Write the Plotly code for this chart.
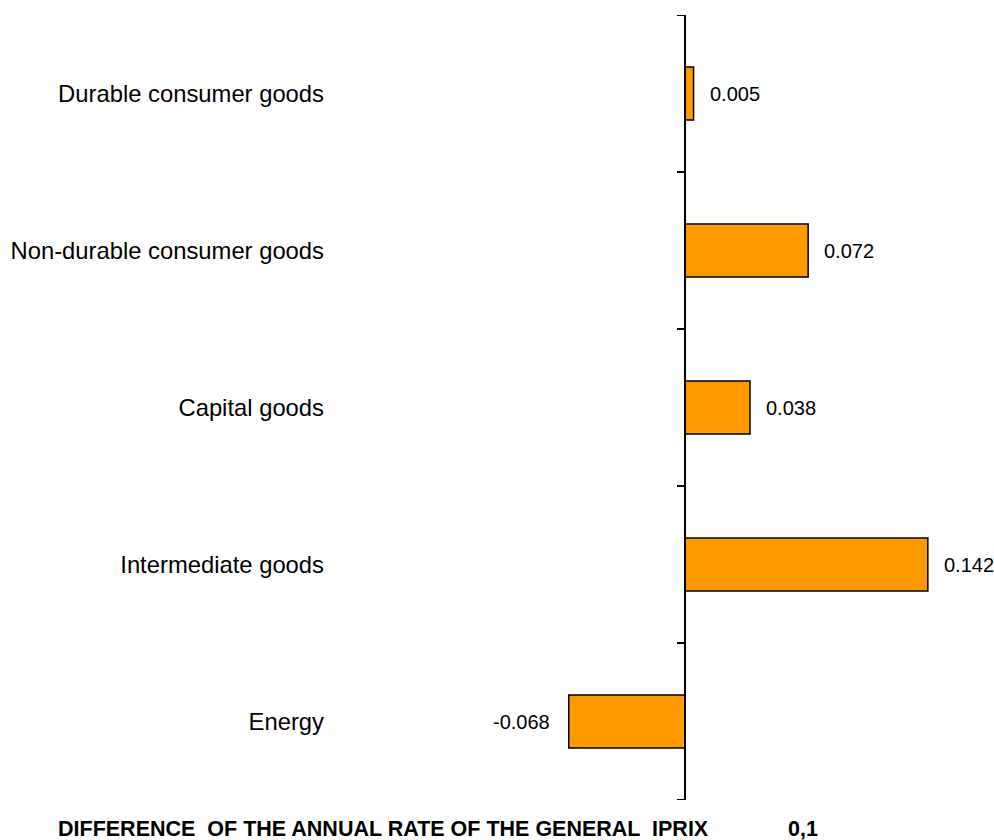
import plotly.graph_objects as go

# Categories, listed top to bottom
categories = [
    "Durable consumer goods",
    "Non-durable consumer goods",
    "Capital goods",
    "Intermediate goods",
    "Energy",
]
values = [0.005, 0.072, 0.038, 0.142, -0.068]
value_labels = ["0.005", "0.072", "0.038", "0.142", "-0.068"]

footer_text = "DIFFERENCE  OF THE ANNUAL RATE OF THE GENERAL  IPRIX"
footer_value = "0,1"

W, H = 994, 840
L, R, T, B = 335, 20, 15, 40
plot_w = W - L - R
plot_h = H - T - B
x_min, x_max = -0.2047, 0.169

BAR_COLOR = "#FF9900"
FONT = "Liberation Sans, Arial, sans-serif"

fig = go.Figure()
fig.add_trace(go.Bar(
    x=values,
    y=categories,
    orientation="h",
    marker=dict(color=BAR_COLOR, line=dict(color="black", width=1.5)),
    hoverinfo="x+y",
))

# value labels beside each bar end
annotations = []
for cat, v, lab in zip(categories, values, value_labels):
    annotations.append(dict(
        x=v, y=cat, xref="x", yref="y", text=lab, showarrow=False,
        xanchor="left" if v >= 0 else "right",
        xshift=14 if v >= 0 else -17,
        font=dict(family=FONT, size=20, color="black"),
    ))

# footer line below the chart
footer_y = -(829 - (H - B)) / plot_h
annotations.append(dict(
    x=(57 - L) / plot_w, y=footer_y, xref="paper", yref="paper",
    text=f"<b>{footer_text}</b>", showarrow=False, xanchor="left", yanchor="middle",
    font=dict(family=FONT, size=21.5, color="black"), borderpad=0,
))
annotations.append(dict(
    x=(787 - L) / plot_w, y=footer_y, xref="paper", yref="paper",
    text=f"<b>{footer_value}</b>", showarrow=False, xanchor="left", yanchor="middle",
    font=dict(family=FONT, size=21.5, color="black"), borderpad=0,
))

# vertical axis line at zero with outward ticks at category boundaries
n = len(categories)
shapes = [dict(type="line", xref="x", yref="y", x0=0, x1=0, y0=-0.5, y1=n - 0.5,
               line=dict(color="black", width=2))]
for i in range(n + 1):
    shapes.append(dict(type="line", xref="x", yref="y", xsizemode="pixel", xanchor=0,
                       x0=-8, x1=0, y0=i - 0.5, y1=i - 0.5,
                       line=dict(color="black", width=2)))

fig.update_layout(
    width=W, height=H,
    margin=dict(l=L, r=R, t=T, b=B, autoexpand=False),
    paper_bgcolor="white", plot_bgcolor="white",
    showlegend=False,
    bargap=0.662,
    xaxis=dict(range=[x_min, x_max], visible=False, showgrid=False, zeroline=False,
               automargin=False),
    yaxis=dict(
        type="category", range=[n - 0.5, -0.5], automargin=False,
        showline=False, showgrid=False, zeroline=False, ticks="",
        ticklabelstandoff=10,
        tickfont=dict(family=FONT, size=23.8, color="black"),
    ),
    annotations=annotations,
    shapes=shapes,
)

fig.write_html("out.html")
